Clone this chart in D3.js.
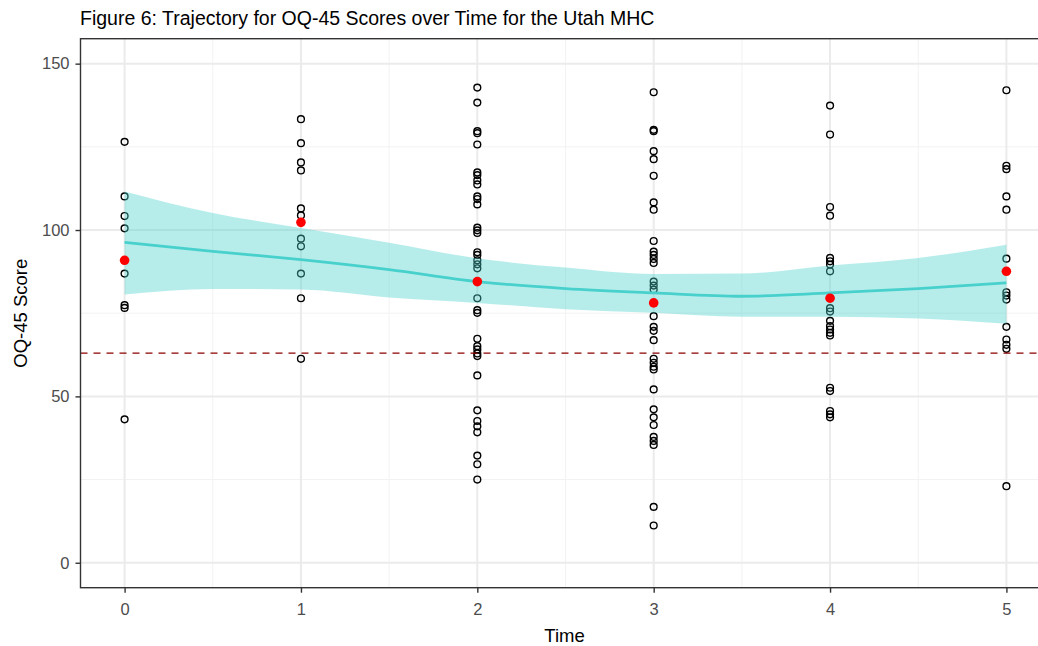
<!DOCTYPE html>
<html>
<head>
<meta charset="utf-8">
<script src="https://cdn.jsdelivr.net/npm/d3@7"></script>
<style>
  body { margin: 0; background: #fff; }
  svg { display: block; font-family: "Liberation Sans", Arial, sans-serif; }
  .tick-label { fill: #4d4d4d; font-size: 16.5px; }
  .axis-title { fill: #000; font-size: 18.5px; }
</style>
</head>
<body>
<div id="chart"></div>
<script>
const width = 1038, height = 646;
const margin = { top: 38.7, left: 80.5 };
const panelRight = 1050.5, panelBottom = 587.7; // panel runs past the right edge of the picture

// observed OQ-45 scores per time point
const time0 = [126.5, 110.1, 104.2, 100.5, 86.9, 77.4, 76.6, 43.1];
const time1 = [133.3, 126.1, 120.3, 117.9, 106.5, 104.4, 97.4, 95.1, 86.9, 79.5, 61.3];
const time2 = [142.8, 138.3, 129.7, 129.1, 125.7, 117.3, 116.5, 114.9, 113.7, 110.1, 109.3, 107.7,
               100.7, 99.9, 99.1, 93.3, 92.5, 90.9, 89.7, 88.5, 84.5, 79.5, 75.9, 75.1, 67.3, 65.1,
               64.1, 62.9, 62.1, 56.3, 45.8, 42.6, 41.0, 39.2, 32.2, 29.6, 25.0];
const time3 = [141.4, 130.1, 129.7, 123.7, 121.3, 116.3, 108.3, 106.1, 96.7, 93.5, 92.5, 91.3, 90.1,
               84.5, 83.3, 82.1, 74.1, 70.9, 69.7, 66.9, 61.3, 60.1, 58.9, 58.1, 52.1, 46.1, 43.7,
               41.4, 37.8, 36.6, 35.4, 16.8, 11.2];
const time4 = [137.4, 128.7, 106.9, 104.3, 91.6, 90.6, 89.6, 87.6, 76.5, 75.5, 72.7, 71.1, 70.1,
               69.1, 68.3, 52.6, 51.6, 45.6, 44.6, 43.7];
const time5 = [142.0, 119.3, 118.3, 110.1, 106.1, 91.4, 81.3, 80.3, 79.1, 70.9, 67.1, 65.5, 64.3, 23.0];
const scoresByTime = [time0, time1, time2, time3, time4, time5];

// mean score per time point (red dots)
const meanScores = [90.9, 102.3, 84.5, 78.1, 79.5, 87.6];

// smoothed trajectory and its confidence band
const smoothTime  = [0, 0.5, 1, 1.5, 2, 2.5, 3, 3.5, 4, 4.5, 5];
const smoothFit   = [96.3, 93.6, 91.1, 88.1, 84.5, 82.4, 81.1, 80.1, 81.1, 82.4, 84.1];
const smoothUpper = [111.6, 105.1, 100.6, 96.2, 91.5, 88.7, 86.8, 86.9, 89.3, 91.6, 95.6];
const smoothLower = [80.6, 82.3, 82.1, 79.7, 78.1, 76.2, 75.1, 73.9, 73.9, 73.4, 71.8];

const cutoff = 63; // clinical cutoff (dashed line)

const xTicks = [0, 1, 2, 3, 4, 5];
const xMinor = [0.5, 1.5, 2.5, 3.5, 4.5];
const yTicks = [0, 50, 100, 150];
const yMinor = [25, 75, 125];

const teal = "#48d1cc";

const svg = d3.select("#chart")
    .append("svg")
    .attr("width", width)
    .attr("height", height);

const xScale = d3.scaleLinear().domain([-0.25, 5.25]).range([margin.left, panelRight]);
const yScale = d3.scaleLinear().domain([-7.5, 157.5]).range([panelBottom, margin.top]);

svg.append("clipPath").attr("id", "panel-clip")
    .append("rect")
    .attr("x", margin.left).attr("y", margin.top)
    .attr("width", panelRight - margin.left).attr("height", panelBottom - margin.top);

const panel = svg.append("g").attr("clip-path", "url(#panel-clip)");

// grid
panel.selectAll(".minor-y").data(yMinor).join("line")
    .attr("x1", margin.left).attr("x2", panelRight)
    .attr("y1", d => yScale(d)).attr("y2", d => yScale(d))
    .attr("stroke", "#f2f2f2").attr("stroke-width", 1);
panel.selectAll(".minor-x").data(xMinor).join("line")
    .attr("y1", margin.top).attr("y2", panelBottom)
    .attr("x1", d => xScale(d)).attr("x2", d => xScale(d))
    .attr("stroke", "#f2f2f2").attr("stroke-width", 1);
panel.append("g").selectAll("line").data(yTicks).join("line")
    .attr("x1", margin.left).attr("x2", panelRight)
    .attr("y1", d => yScale(d)).attr("y2", d => yScale(d))
    .attr("stroke", "#ebebeb").attr("stroke-width", 2);
panel.append("g").selectAll("line").data(xTicks).join("line")
    .attr("y1", margin.top).attr("y2", panelBottom)
    .attr("x1", d => xScale(d)).attr("x2", d => xScale(d))
    .attr("stroke", "#ebebeb").attr("stroke-width", 2);

// raw points
const points = scoresByTime.flatMap((arr, t) => arr.map(v => ({ t, v })));
panel.append("g").selectAll("circle").data(points).join("circle")
    .attr("cx", d => xScale(d.t))
    .attr("cy", d => yScale(d.v))
    .attr("r", 3.4)
    .attr("fill", "none")
    .attr("stroke", "#000")
    .attr("stroke-width", 1.4);

// smooth band + line
const smoothData = smoothTime.map((t, i) => ({ t, fit: smoothFit[i], lo: smoothLower[i], hi: smoothUpper[i] }));
panel.append("path")
    .datum(smoothData)
    .attr("d", d3.area().x(d => xScale(d.t)).y0(d => yScale(d.lo)).y1(d => yScale(d.hi)).curve(d3.curveMonotoneX))
    .attr("fill", teal)
    .attr("fill-opacity", 0.4);
panel.append("path")
    .datum(smoothData)
    .attr("d", d3.line().x(d => xScale(d.t)).y(d => yScale(d.fit)).curve(d3.curveMonotoneX))
    .attr("fill", "none")
    .attr("stroke", teal)
    .attr("stroke-width", 2.8);

// means
panel.append("g").selectAll("circle").data(meanScores).join("circle")
    .attr("cx", (d, i) => xScale(i))
    .attr("cy", d => yScale(d))
    .attr("r", 4.8)
    .attr("fill", "#ff0000");

// cutoff line
panel.append("line")
    .attr("x1", margin.left).attr("x2", panelRight)
    .attr("y1", yScale(cutoff)).attr("y2", yScale(cutoff))
    .attr("stroke", "#8b0000")
    .attr("stroke-width", 1.4)
    .attr("stroke-dasharray", "7,6");

// panel border
svg.append("rect")
    .attr("x", margin.left).attr("y", margin.top)
    .attr("width", panelRight - margin.left).attr("height", panelBottom - margin.top)
    .attr("fill", "none").attr("stroke", "#333").attr("stroke-width", 1.4);

// axes
const bottomAxis = d3.axisBottom(xScale).tickValues(xTicks).tickSize(5).tickPadding(11).tickFormat(d3.format("d"));
const gx = svg.append("g").attr("transform", `translate(0, ${panelBottom})`).call(bottomAxis);
const leftAxis = d3.axisLeft(yScale).tickValues(yTicks).tickSize(5).tickPadding(6).tickFormat(d3.format("d"));
const gy = svg.append("g").attr("transform", `translate(${margin.left}, 0)`).call(leftAxis);
[gx, gy].forEach(g => {
    g.select(".domain").remove();
    g.selectAll(".tick line").attr("stroke", "#333").attr("stroke-width", 1.4);
    g.selectAll(".tick text").attr("class", "tick-label");
    g.attr("font-size", null).attr("font-family", null);
});

// titles
svg.append("text")
    .text("Figure 6: Trajectory for OQ-45 Scores over Time for the Utah MHC")
    .attr("x", 80)
    .attr("y", 25)
    .attr("font-size", "19.5px")
    .attr("fill", "#000");

svg.append("text")
    .text("Time")
    .attr("class", "axis-title")
    .attr("text-anchor", "middle")
    .attr("x", 564.5)
    .attr("y", 641.5);

svg.append("text")
    .text("OQ-45 Score")
    .attr("class", "axis-title")
    .attr("text-anchor", "middle")
    .attr("transform", `translate(26.5, ${(margin.top + panelBottom) / 2}) rotate(-90)`);
</script>
</body>
</html>
